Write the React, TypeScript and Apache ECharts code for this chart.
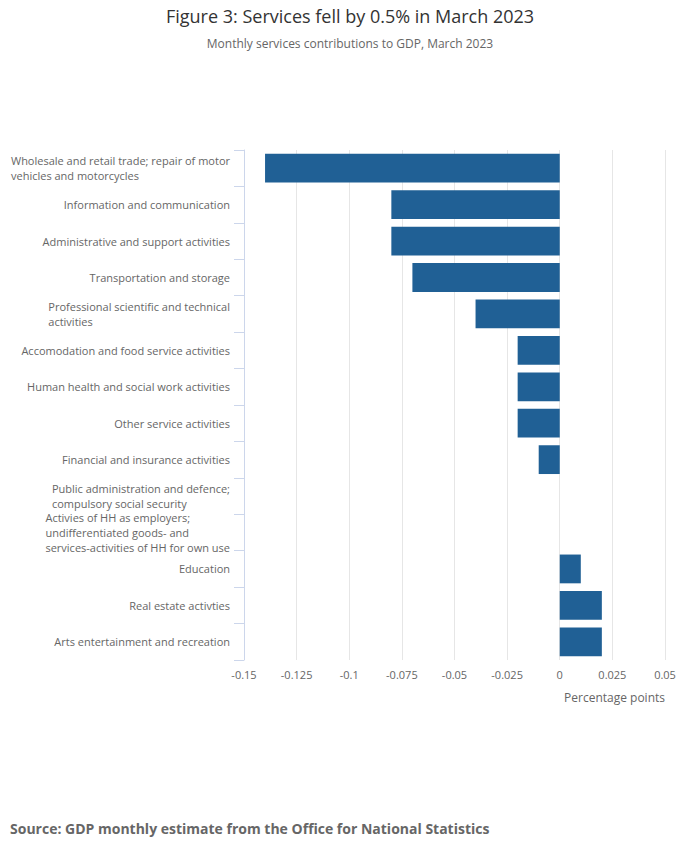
import React, { useEffect, useRef } from "react";
import * as echarts from "echarts";

const categories: string[] = [
  "Wholesale and retail trade; repair of motor\nvehicles and motorcycles",
  "Information and communication",
  "Administrative and support activities",
  "Transportation and storage",
  "Professional scientific and technical\nactivities",
  "Accomodation and food service activities",
  "Human health and social work activities",
  "Other service activities",
  "Financial and insurance activities",
  "Public administration and defence;\ncompulsory social security",
  "Activies of HH as employers;\nundifferentiated goods- and\nservices-activities of HH for own use",
  "Education",
  "Real estate activties",
  "Arts entertainment and recreation",
];

const values: number[] = [
  -0.14, -0.08, -0.08, -0.07, -0.04, -0.02, -0.02, -0.02, -0.01, 0, 0, 0.01, 0.02, 0.02,
];

const xTicks: number[] = [-0.15, -0.125, -0.1, -0.075, -0.05, -0.025, 0, 0.025, 0.05];
const xTickLabels: string[] = ["-0.15", "-0.125", "-0.1", "-0.075", "-0.05", "-0.025", "0", "0.025", "0.05"];

const titleText = "Figure 3: Services fell by 0.5% in March 2023";
const subtitleText = "Monthly services contributions to GDP, March 2023";
const xAxisTitle = "Percentage points";
const sourceText = "Source: GDP monthly estimate from the Office for National Statistics";

const FONT = "'Open Sans', 'Noto Sans', sans-serif";

export default function App() {
  const ref = useRef<HTMLDivElement>(null);

  useEffect(() => {
    if (!ref.current) return;
    const chart = echarts.init(ref.current, undefined, { renderer: "svg" });
    const step = xTicks[1] - xTicks[0];
    chart.setOption({
      animation: false,
      textStyle: { fontFamily: FONT },
      title: [
        {
          text: titleText,
          left: "center",
          top: 7,
          padding: 0,
          textStyle: { fontSize: 18, fontWeight: "normal", color: "#333333", fontFamily: FONT },
        },
        {
          text: subtitleText,
          left: "center",
          top: 37,
          padding: 0,
          textStyle: { fontSize: 12, fontWeight: "normal", color: "#666666", fontFamily: FONT },
        },
        {
          text: sourceText,
          left: 10,
          top: 821,
          padding: 0,
          textStyle: { fontSize: 14, fontWeight: "bold", color: "#666666", fontFamily: FONT },
        },
      ],
      grid: { left: 244, right: 35, top: 150, bottom: 197, containLabel: false },
      xAxis: {
        type: "value",
        min: xTicks[0],
        max: xTicks[xTicks.length - 1],
        interval: step,
        axisLine: { show: false },
        axisTick: { show: false },
        splitLine: { show: true, lineStyle: { color: "#e6e6e6", width: 1 } },
        axisLabel: {
          color: "#666666",
          fontSize: 11,
          fontFamily: FONT,
          margin: 9,
          formatter: (v: number) => {
            let best = 0;
            for (let i = 0; i < xTicks.length; i++) {
              if (Math.abs(xTicks[i] - v) < Math.abs(xTicks[best] - v)) best = i;
            }
            return xTickLabels[best];
          },
        },
      },
      yAxis: {
        type: "category",
        inverse: true,
        data: categories,
        axisLine: { show: true, onZero: false, lineStyle: { color: "#ccd6eb", width: 1 } },
        axisTick: { show: true, length: 10, lineStyle: { color: "#ccd6eb", width: 1 } },
        splitLine: { show: false },
        axisLabel: {
          margin: 14,
          color: "#666666",
          fontSize: 11,
          fontFamily: FONT,
          lineHeight: 15,
          align: "right",
          interval: 0,
          formatter: (v: string) =>
            v
              .split("\n")
              .map((line) => `{l|${line}}`)
              .join("\n"),
          rich: {
            l: {
              align: "left",
              color: "#666666",
              fontSize: 11,
              fontFamily: FONT,
              lineHeight: 15,
            },
          },
        },
      },
      series: [
        {
          type: "bar",
          data: values,
          barCategoryGap: "21%",
          itemStyle: { color: "#206095" },
        },
      ],
      graphic: [
        {
          type: "text",
          x: 665,
          y: 697,
          style: {
            text: xAxisTitle,
            align: "right",
            verticalAlign: "middle",
            fill: "#666666",
            fontSize: 12,
            fontFamily: FONT,
          },
        },
      ],
    });
    return () => chart.dispose();
  }, []);

  return (
    <div
      ref={ref}
      style={{ position: "fixed", left: 0, top: 0, width: 700, height: 857, background: "#ffffff" }}
    />
  );
}
